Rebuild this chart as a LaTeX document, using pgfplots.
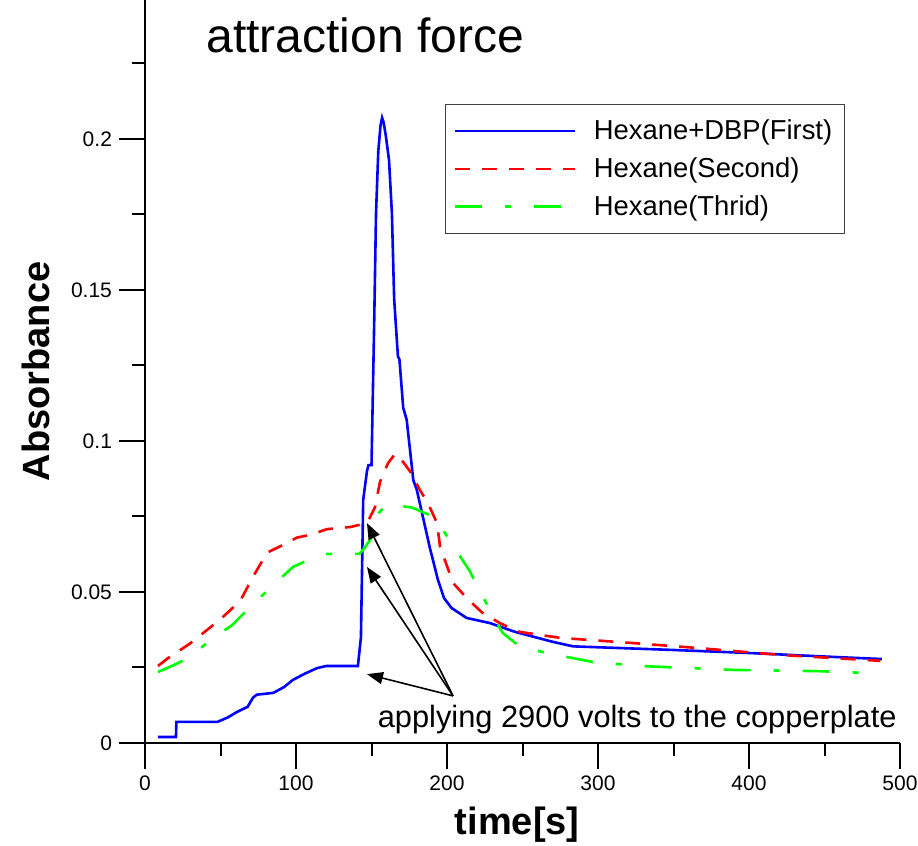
\documentclass[border=0pt]{standalone}
\usepackage{fontspec}
\setmainfont{Liberation Sans}
\usepackage{pgfplots}
\pgfplotsset{compat=1.18}
\usetikzlibrary{calc,arrows.meta}
\definecolor{lineblue}{RGB}{0,0,255}
\definecolor{linered}{RGB}{255,0,0}
\definecolor{linegreen}{RGB}{0,255,0}

\begin{document}
\begin{tikzpicture}
\begin{axis}[
    name=ax,
    scale only axis,
    width=377.5pt, height=371.5pt,
    xmin=0, xmax=500, ymin=0, ymax=0.246,
    axis x line*=bottom, axis y line*=left,
    axis line style={-, line width=1pt},
    tick align=outside,
    major tick length=13pt, minor tick length=6.5pt,
    tick style={black, line width=1pt},
    xtick={0,100,200,300,400,500},
    xticklabels={0,100,200,300,400,500},
    minor xtick={50,150,250,350,450},
    ytick={0,0.05,0.1,0.15,0.2},
    yticklabels={0,0.05,0.1,0.15,0.2},
    minor ytick={0.025,0.075,0.125,0.175,0.225},
    ticklabel style={font=\fontsize{10.5}{12}\selectfont},
    xlabel={time[s]}, ylabel={Absorbance},
    label style={font=\fontsize{19}{22}\selectfont\bfseries},
    xlabel style={at={(axis description cs:0.493,-0.110)}, anchor=center},
    ylabel style={at={(axis description cs:-0.145,0.5)}, anchor=center},
    clip=false,
    legend style={at={(0.397,0.860)}, anchor=north west,
        draw=black!75, line width=0.6pt,
        inner xsep=4pt, inner ysep=5.5pt,
        row sep=3.5pt,
        font=\fontsize{13.7}{16}\selectfont,
        cells={anchor=west}},
    legend image code/.code={
        \draw[#1] (0pt,0pt) -- (60pt,0pt);
        \path (67pt,0pt);},
]

% Hexane+DBP (First)
\addplot[lineblue, line width=1.3pt] coordinates {
    (8.6,0.002) (20.5,0.002) (20.8,0.007) (48,0.007) (55,0.0085) (61,0.0103)
    (68,0.012) (71.5,0.015) (74,0.016) (85,0.0166) (92,0.0185) (98,0.0209)
    (106,0.023) (114,0.0248) (120,0.0255) (141,0.0255) (143,0.035)
    (144.5,0.0805) (147,0.09) (148,0.092) (150,0.092) (151.7,0.137)
    (153,0.1755) (154.5,0.196) (156,0.2045) (157,0.207) (158,0.2055)
    (159.5,0.201) (161.6,0.193) (163.5,0.1755) (165,0.147) (167.5,0.128)
    (168.5,0.127) (171,0.111) (173.3,0.107) (177.7,0.087) (180,0.0838)
    (188.7,0.0645) (194,0.054) (198,0.048) (203,0.0447) (213,0.0414)
    (228.5,0.0397) (245,0.0368) (270,0.0335) (283.5,0.032) (350,0.0308)
    (400,0.0298) (456,0.0285) (488,0.0278)
};
\addlegendentry{Hexane+DBP(First)}

% Hexane (Second)
\addplot[linered, line width=1.3pt, dash pattern=on 7.5pt off 6pt] coordinates {
    (8.6,0.0255) (15,0.028) (30,0.033) (40,0.037) (50,0.041) (63,0.047)
    (71.5,0.055) (80.8,0.063) (89,0.065) (100.6,0.068) (110,0.069)
    (120.5,0.0708) (135.8,0.0715) (147,0.0728) (152.3,0.078) (155.6,0.0864)
    (161,0.0927) (165.6,0.0957) (169,0.0943) (175.5,0.090) (182,0.0838)
    (187.4,0.0794) (193.4,0.0728) (195.4,0.065) (204,0.053) (213,0.048)
    (223,0.0433) (235,0.0397) (248,0.0368) (275,0.0348) (323,0.0331)
    (367.5,0.0314) (422.5,0.0291) (487,0.0272)
};
\addlegendentry{Hexane(Second)}

% Hexane (Third)
\addplot[linegreen, line width=1.3pt, dash pattern=on 13.5pt off 11.5pt on 3pt off 11.5pt] coordinates {
    (8.6,0.0235) (20,0.026) (30,0.0285) (43,0.034) (57.6,0.039) (69.5,0.045)
    (85,0.0523) (98,0.0583) (110,0.061) (120.5,0.0626) (142,0.0626)
    (146,0.065) (150,0.068) (154.5,0.076) (160,0.079) (176.6,0.078)
    (190.7,0.075) (197.4,0.0705) (205,0.0645) (215,0.057) (222,0.050)
    (228,0.0445) (233,0.0397) (237,0.0364) (248,0.032) (266,0.0298)
    (296.7,0.0268) (328,0.0255) (389.6,0.0242) (445,0.0238) (478,0.0232)
};
\addlegendentry{Hexane(Thrid)}

\node[anchor=base west, font=\fontsize{24}{28}\selectfont]
    at (axis cs:36,0.2285) {attraction force};
\node[anchor=base west, font=\fontsize{15.4}{18}\selectfont]
    at (axis cs:149.5,0.0053) {applying 2900 volts to the copperplate};
\draw[line width=0.8pt, -{Triangle[length=8pt,width=6pt]}]
    (axis cs:204,0.0156) -- (axis cs:147,0.0228);
\draw[line width=0.8pt, -{Triangle[length=8pt,width=6pt]}]
    (axis cs:204,0.0156) -- (axis cs:147,0.0583);
\draw[line width=0.8pt, -{Triangle[length=8pt,width=6pt]}]
    (axis cs:204,0.0156) -- (axis cs:147,0.0728);
\end{axis}
\pgfresetboundingbox
\path[use as bounding box] ($(ax.south west)+(-72.5pt,-51pt)$) rectangle ($(ax.north east)+(9pt,0pt)$);
\end{tikzpicture}
\end{document}
